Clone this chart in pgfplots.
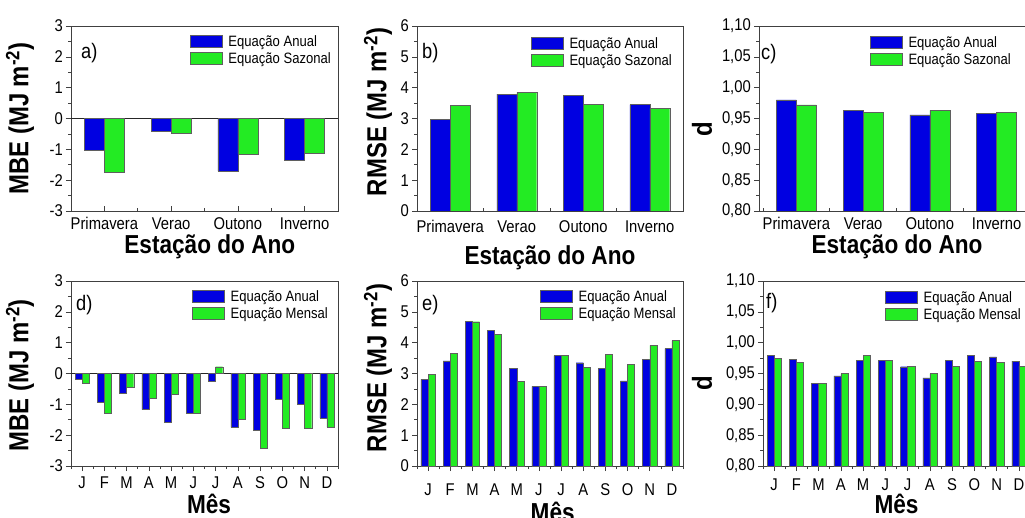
\documentclass[border=0pt]{standalone}
\usepackage{pgfplots}
\pgfplotsset{compat=1.18}
\usepackage{fontspec}
\setmainfont{Liberation Sans}[FakeStretch=0.87]
\definecolor{bblue}{RGB}{0,0,225}
\definecolor{bgreen}{RGB}{35,235,35}
\definecolor{edge}{RGB}{95,95,95}
\tikzset{plab/.style={anchor=north west, inner sep=0pt, font=\fontsize{21}{21}\selectfont}}
\pgfplotsset{
  barleg/.style={legend image code/.code={\draw[##1,draw=edge,line width=0.6pt] (0pt,-6pt) rectangle (32pt,6pt);}},
  panel/.style={
    scale only axis, height=185pt, anchor=south west,
    ybar, clip=true,
    axis line style={black!75, line width=0.7pt},
    tick style={black!75, line width=0.6pt},
    xtick pos=bottom, ytick pos=left,
    ytick align=outside,
    major tick length=5pt, minor tick length=3pt,
    minor y tick num=1,
    tick label style={font=\fontsize{17}{17}\selectfont},
    /pgf/number format/assume math mode=true,
    yticklabel style={anchor=east, inner sep=0pt, xshift=-3pt},
    xticklabel style={anchor=base, inner sep=0pt},
    ylabel style={font=\fontsize{27.5}{27.5}\bfseries\selectfont, anchor=center},
    xlabel style={font=\fontsize{26}{26}\bfseries\selectfont, anchor=base},
    legend style={at={(rel axis cs:1,1)}, anchor=north east, draw=none, fill=none,
      font=\fontsize{15}{15}\selectfont, inner sep=0pt, row sep=1pt, column sep=4pt,
      cells={anchor=west}},
  },
  season/.style={panel, bar width=0.3, xtick={1,2,3,4}, minor xtick={0.5,1.5,2.5,3.5,4.5},
    xtick align=inside,
    xticklabels={Primavera,Verao,Outono,Inverno}, xlabel={Estação do Ano}},
  month/.style={panel, bar width=0.32, xmin=0.5, xmax=12.5, xtick={1,...,12},
    minor xtick={0.5,1.5,...,12.5}, xtick align=outside,
    xticklabels={J,F,M,A,M,J,J,A,S,O,N,D}, xlabel={Mês}},
  dstyle/.style={ymin=0.80, ymax=1.10, ytick={0.80,0.85,0.90,0.95,1.00,1.05,1.10},
    yticklabel style={/pgf/number format/.cd, fixed, fixed zerofill, precision=2, use comma},
    ylabel={d}},
  mbe/.style={ymin=-3, ymax=3, ytick={-3,-2,-1,0,1,2,3},
    extra y ticks={0}, extra y tick labels={},
    extra y tick style={grid=major, major grid style={black!85, line width=0.7pt}},
    ylabel={MBE (MJ m\textsuperscript{-2})}},
  rmse/.style={ymin=0, ymax=6, ytick={0,1,2,3,4,5,6}, ylabel={RMSE (MJ m\textsuperscript{-2})}},
}
\begin{document}
\begin{tikzpicture}
\useasboundingbox (0,0) rectangle (1025pt,517pt);
\clip (0,0) rectangle (1025pt,517pt);
% ---------- a ----------
\begin{axis}[season, mbe, at={(71pt,306pt)}, width=267pt, xmin=0.5, xmax=4.5,
  ylabel style={at={(axis description cs:-0.191,0.5)}},
  xlabel style={at={(axis description cs:0.52,0)}, yshift=-43pt},
  xticklabel style={yshift=-19pt},
  legend style={xshift=-5pt, yshift=-7pt}]
\addplot[fill=bblue, draw=edge, bar shift=-0.15, barleg] coordinates {(1,-1.03) (2,-0.41) (3,-1.71) (4,-1.35)};
\addplot[fill=bgreen, draw=edge, bar shift=0.15, barleg] coordinates {(1,-1.73) (2,-0.49) (3,-1.15) (4,-1.14)};
\legend{Equação Anual, Equação Sazonal}
\node[plab] at (rel axis cs:0,1) [xshift=10pt, yshift=-17pt] {a)};
\end{axis}
% ---------- b ----------
\begin{axis}[season, rmse, at={(417pt,306pt)}, width=266pt, xmin=0.5, xmax=4.5,
  ylabel style={at={(axis description cs:-0.147,0.535)}},
  xlabel style={at={(axis description cs:0.5,0)}, yshift=-53pt},
  xticklabel style={yshift=-22pt},
  legend style={xshift=-9pt, yshift=-9pt}]
\addplot[fill=bblue, draw=edge, bar shift=-0.15, barleg] coordinates {(1,2.98) (2,3.79) (3,3.74) (4,3.45)};
\addplot[fill=bgreen, draw=edge, bar shift=0.15, barleg] coordinates {(1,3.43) (2,3.85) (3,3.47) (4,3.33)};
\legend{Equação Anual, Equação Sazonal}
\node[plab] at (rel axis cs:0,1) [xshift=5pt, yshift=-17pt] {b)};
\end{axis}
% ---------- c ----------
\begin{axis}[season, dstyle, at={(759pt,306pt)}, width=267pt, xmin=0.44, xmax=4.44,
  ylabel style={at={(axis description cs:-0.213,0.44)}},
  xlabel style={at={(axis description cs:0.517,0)}, yshift=-43pt},
  xticklabel style={yshift=-19pt},
  legend style={xshift=-13pt, yshift=-8pt}]
\addplot[fill=bblue, draw=edge, bar shift=-0.15, barleg] coordinates {(1,0.980) (2,0.963) (3,0.956) (4,0.958)};
\addplot[fill=bgreen, draw=edge, bar shift=0.15, barleg] coordinates {(1,0.972) (2,0.960) (3,0.963) (4,0.960)};
\legend{Equação Anual, Equação Sazonal}
\node[plab] at (rel axis cs:0,1) [xshift=2pt, yshift=-18pt] {c)};
\end{axis}
% ---------- d ----------
\begin{axis}[month, mbe, at={(71pt,51pt)}, width=267pt,
  ylabel style={at={(axis description cs:-0.191,0.49)}},
  xlabel style={at={(axis description cs:0.517,0)}, yshift=-47pt},
  xticklabel style={yshift=-17pt},
  legend style={xshift=-8pt, yshift=-7pt}]
\addplot[fill=bblue, draw=edge, bar shift=-0.16, barleg] coordinates {(1,-0.18) (2,-0.92) (3,-0.63) (4,-1.17) (5,-1.59) (6,-1.30) (7,-0.26) (8,-1.75) (9,-1.84) (10,-0.84) (11,-0.99) (12,-1.44)};
\addplot[fill=bgreen, draw=edge, bar shift=0.16, barleg] coordinates {(1,-0.32) (2,-1.30) (3,-0.46) (4,-0.79) (5,-0.67) (6,-1.30) (7,0.22) (8,-1.47) (9,-2.43) (10,-1.78) (11,-1.77) (12,-1.75)};
\legend{Equação Anual, Equação Mensal}
\node[plab] at (rel axis cs:0,1) [xshift=5pt, yshift=-14pt] {d)};
\end{axis}
% ---------- e ----------
\begin{axis}[month, rmse, at={(417pt,51pt)}, width=266pt,
  ylabel style={at={(axis description cs:-0.147,0.53)}},
  xlabel style={at={(axis description cs:0.51,0)}, yshift=-55pt},
  xticklabel style={yshift=-24pt},
  legend style={xshift=-5pt, yshift=-7pt}]
\addplot[fill=bblue, draw=edge, bar shift=-0.16, barleg] coordinates {(1,2.81) (2,3.41) (3,4.70) (4,4.39) (5,3.16) (6,2.58) (7,3.58) (8,3.35) (9,3.16) (10,2.76) (11,3.45) (12,3.81)};
\addplot[fill=bgreen, draw=edge, bar shift=0.16, barleg] coordinates {(1,2.97) (2,3.65) (3,4.68) (4,4.27) (5,2.75) (6,2.58) (7,3.58) (8,3.19) (9,3.61) (10,3.29) (11,3.91) (12,4.07)};
\legend{Equação Anual, Equação Mensal}
\node[plab] at (rel axis cs:0,1) [xshift=5pt, yshift=-14pt] {e)};
\end{axis}
% ---------- f ----------
\begin{axis}[month, dstyle, at={(763pt,51pt)}, width=267pt,
  ylabel style={at={(axis description cs:-0.228,0.45)}},
  xlabel style={at={(axis description cs:0.5,0)}, yshift=-47pt},
  xticklabel style={yshift=-19pt},
  legend style={xshift=-7pt, yshift=-8pt}]
\addplot[fill=bblue, draw=edge, bar shift=-0.16, barleg] coordinates {(1,0.979) (2,0.973) (3,0.934) (4,0.946) (5,0.971) (6,0.971) (7,0.961) (8,0.943) (9,0.971) (10,0.980) (11,0.977) (12,0.970)};
\addplot[fill=bgreen, draw=edge, bar shift=0.16, barleg] coordinates {(1,0.975) (2,0.968) (3,0.934) (4,0.950) (5,0.979) (6,0.971) (7,0.962) (8,0.950) (9,0.962) (10,0.970) (11,0.968) (12,0.962)};
\legend{Equação Anual, Equação Mensal}
\node[plab] at (rel axis cs:0,1) [xshift=3pt, yshift=-12pt] {f)};
\end{axis}
\end{tikzpicture}
\end{document}
